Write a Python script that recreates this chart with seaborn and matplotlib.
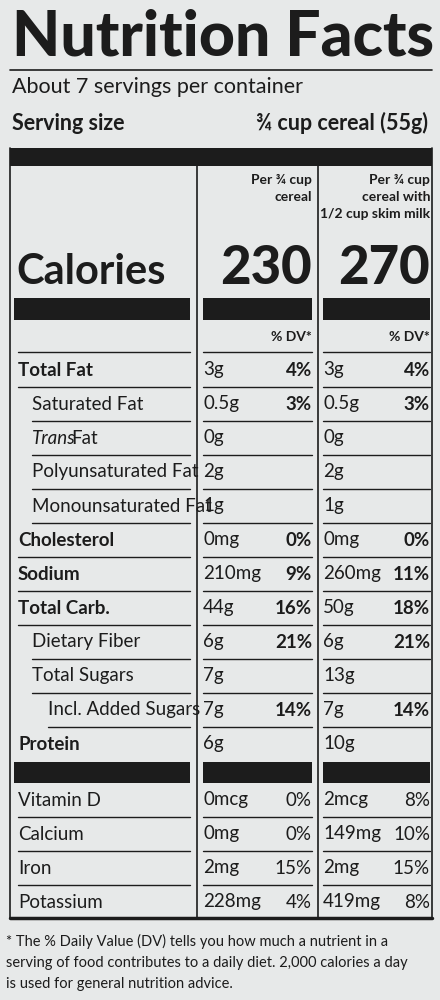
import matplotlib
matplotlib.use("Agg")
import matplotlib.pyplot as plt
import seaborn as sns
from matplotlib.patches import Rectangle

sns.set_theme(style="white")
plt.rcParams['font.family'] = ['Lato', 'DejaVu Sans']

nutrients = ["Total Fat", "Saturated Fat", "Trans Fat", "Polyunsaturated Fat", "Monounsaturated Fat",
             "Cholesterol", "Sodium", "Total Carb.", "Dietary Fiber", "Total Sugars",
             "Incl. Added Sugars", "Protein"]
indent = [0, 1, 1, 1, 1, 0, 0, 0, 1, 1, 2, 0]
amount1 = ["3g", "0.5g", "0g", "2g", "1g", "0mg", "210mg", "44g", "6g", "7g", "7g", "6g"]
dv1 = ["4%", "3%", "", "", "", "0%", "9%", "16%", "21%", "", "14%", ""]
amount2 = ["3g", "0.5g", "0g", "2g", "1g", "0mg", "260mg", "50g", "6g", "13g", "7g", "10g"]
dv2 = ["4%", "3%", "", "", "", "0%", "11%", "18%", "21%", "", "14%", ""]
vitamins = ["Vitamin D", "Calcium", "Iron", "Potassium"]
vamount1 = ["0mcg", "0mg", "2mg", "228mg"]
vdv1 = ["0%", "0%", "15%", "4%"]
vamount2 = ["2mcg", "149mg", "2mg", "419mg"]
vdv2 = ["8%", "10%", "15%", "8%"]
calories = ["230", "270"]

BG = "#e7e9e9"
INK = "#1c1c1c"
fig = plt.figure(figsize=(4.4, 10), dpi=100, facecolor=BG)
ax = fig.add_axes([0, 0, 1, 1])
ax.set_facecolor(BG)
ax.set_xlim(0, 440); ax.set_ylim(1000, 0); ax.axis("off")

def bar(x0, x1, y0, y1):
    ax.add_patch(Rectangle((x0, y0), x1 - x0, y1 - y0, color=INK, lw=0))

def t(x, y, s, size=13, ha="left", weight="normal", style="normal", family=None):
    kw = {}
    if family: kw["family"] = family
    ax.text(x, y, s, fontsize=size, ha=ha, va="center", color=INK, weight=weight, style=style, **kw)

t(12, 38, "Nutrition Facts", 45, weight="black", family=["Lato", "DejaVu Sans"])
ax.plot([10, 432], [70, 70], color=INK, lw=1.2)
t(12, 87, "About 7 servings per container", 15.5)
t(12, 123, "Serving size", 15.5, weight="bold")
t(428, 123, "¾ cup cereal (55g)", 15.5, ha="right", weight="bold")
bar(10, 432, 148, 166)

C1, C2 = 197, 318
for x in (C1, C2):
    ax.plot([x, x], [166, 918], color=INK, lw=1.2)
ax.plot([10, 10], [148, 918], color=INK, lw=1.2)
ax.plot([432, 432], [148, 918], color=INK, lw=1.2)

for i, s in enumerate(["Per ¾ cup", "cereal"]):
    t(312, 180 + 17 * i, s, 10, ha="right", weight="bold")
for i, s in enumerate(["Per ¾ cup", "cereal with", "1/2 cup skim milk"]):
    t(430, 180 + 17 * i, s, 10, ha="right", weight="bold")

t(16, 272, "Calories", 30, weight="bold")
t(312, 268, calories[0], 38, ha="right", weight="black")
t(430, 268, calories[1], 38, ha="right", weight="black")

segs = [(14, 190), (203, 312), (323, 430)]
for a, b in segs:
    bar(a, b, 298, 320)
t(312, 337, "% DV*", 10, ha="right", weight="bold")
t(430, 337, "% DV*", 10, ha="right", weight="bold")

def hline(y, x0):
    ax.plot([x0, 190], [y, y], color=INK, lw=1)
    ax.plot([203, 312], [y, y], color=INK, lw=1)
    ax.plot([323, 430], [y, y], color=INK, lw=1)

hline(352, 18)
row_h = 34
for i, name in enumerate(nutrients):
    y = 370 + row_h * i
    ind = indent[i]
    x = 18 + [0, 14, 30][ind]
    bold = ind == 0
    if name == "Trans Fat":
        t(x, y, "Trans", 13.5, style="italic")
        t(x + 39, y, "Fat", 13.5)
    else:
        t(x, y, name, 13.5, weight="bold" if bold else "normal")
    t(203, y, amount1[i], 13.5)
    t(312, y, dv1[i], 13.5, ha="right", weight="bold")
    t(323, y, amount2[i], 13.5)
    t(430, y, dv2[i], 13.5, ha="right", weight="bold")
    if i < len(nutrients) - 1:
        hline(y + 17, x)

for a, b in segs:
    bar(a, b, 762, 783)
for i, name in enumerate(vitamins):
    y = 800 + row_h * i
    t(18, y, name, 13.5)
    t(203, y, vamount1[i], 13.5)
    t(312, y, vdv1[i], 13.5, ha="right")
    t(323, y, vamount2[i], 13.5)
    t(430, y, vdv2[i], 13.5, ha="right")
    if i < len(vitamins) - 1:
        hline(y + 17, 18)
ax.plot([10, 432], [918, 918], color=INK, lw=2.5)

foot = ["* The % Daily Value (DV) tells you how much a nutrient in a",
        "serving of food contributes to a daily diet. 2,000 calories a day",
        "is used for general nutrition advice."]
for i, s in enumerate(foot):
    t(6, 941 + 21.5 * i, s, 10.5)

fig.savefig("out.png", dpi=100, facecolor=BG)
